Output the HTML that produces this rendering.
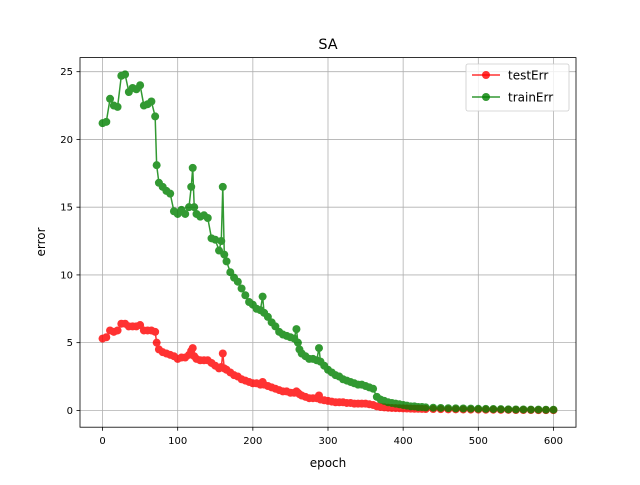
<!DOCTYPE html>
<html><head><meta charset="utf-8"><style>
body{margin:0;background:#fff}
svg text{font-family:"DejaVu Sans","Liberation Sans",sans-serif;fill:#000}
</style></head><body>
<svg id="chart" width="640" height="480" xmlns="http://www.w3.org/2000/svg">
<rect width="640" height="480" fill="#fff"/>
<text x="328" y="49" font-size="14.4" text-anchor="middle">SA</text>
<g id="grid"></g>
<g id="series"></g>
<rect x="80" y="57.6" width="496" height="369.6" fill="none" stroke="#000" stroke-width="0.8"/>
<g id="axes"></g>
<text x="328" y="467" font-size="12" text-anchor="middle">epoch</text>
<text x="45" y="242" font-size="12" text-anchor="middle" transform="rotate(-90 45 242)">error</text>
<g>
<rect x="466" y="64" width="103" height="47" rx="2" fill="#fff" fill-opacity="0.8" stroke="#ccc" stroke-width="0.8"/>
<g>
<line x1="472" y1="75" x2="500" y2="75" stroke="red" stroke-width="1.5" opacity="0.8"/>
<circle cx="486" cy="75" r="4" fill="red" opacity="0.8"/>
<text x="508" y="79.5" font-size="12">testErr</text></g>
<g>
<line x1="472" y1="97" x2="500" y2="97" stroke="green" stroke-width="1.5" opacity="0.8"/>
<circle cx="486" cy="97" r="4" fill="green" opacity="0.8"/>
<text x="508" y="101.5" font-size="12">trainErr</text></g>
</g>
</svg>
<script>
const epochs=[0,5,10,15,20,25,30,35,40,45,50,55,60,65,70,72,75,80,85,90,95,100,105,110,115,118,120,122,125,130,135,140,145,150,155,158,160,162,165,170,175,180,185,190,195,200,205,210,213,215,220,225,230,235,240,245,250,255,258,260,262,265,270,275,280,285,288,290,295,300,305,310,315,320,325,330,335,340,345,350,355,360,365,370,375,380,385,390,395,400,405,410,415,420,425,430,440,450,460,470,480,490,500,510,520,530,540,550,560,570,580,590,600];
const trainErr=[21.2,21.3,23.0,22.5,22.4,24.7,24.8,23.5,23.8,23.7,24.0,22.5,22.6,22.8,21.7,18.1,16.8,16.5,16.2,16.0,14.7,14.5,14.8,14.5,15.0,16.5,17.9,15.0,14.5,14.3,14.4,14.2,12.7,12.6,11.8,12.5,16.5,11.5,11.0,10.2,9.8,9.5,9.0,8.5,8.0,7.8,7.5,7.4,8.4,7.2,6.9,6.5,6.2,5.8,5.6,5.5,5.4,5.3,6.0,5.0,4.5,4.2,4.0,3.8,3.8,3.7,4.6,3.6,3.3,3.0,2.8,2.6,2.5,2.3,2.2,2.1,2.0,1.9,1.9,1.8,1.7,1.6,1.0,0.8,0.7,0.6,0.55,0.5,0.45,0.4,0.35,0.3,0.3,0.25,0.25,0.22,0.2,0.18,0.16,0.15,0.14,0.13,0.12,0.11,0.1,0.09,0.08,0.07,0.07,0.06,0.06,0.05,0.05];
const testErr=[5.3,5.4,5.9,5.8,5.9,6.4,6.4,6.2,6.2,6.2,6.3,5.9,5.9,5.9,5.8,5.0,4.5,4.3,4.2,4.1,4.0,3.8,3.9,3.9,4.1,4.4,4.6,4.0,3.8,3.7,3.7,3.7,3.5,3.3,3.1,3.2,4.2,3.1,3.0,2.8,2.6,2.5,2.3,2.2,2.1,2.0,2.0,1.9,2.1,1.9,1.8,1.7,1.6,1.5,1.4,1.4,1.3,1.3,1.4,1.3,1.2,1.1,1.0,0.9,0.9,0.9,1.1,0.8,0.75,0.7,0.65,0.6,0.6,0.6,0.55,0.55,0.5,0.5,0.5,0.5,0.45,0.4,0.3,0.25,0.22,0.2,0.18,0.17,0.16,0.15,0.14,0.13,0.12,0.12,0.11,0.1,0.1,0.09,0.08,0.08,0.07,0.06,0.06,0.05,0.05,0.04,0.04,0.03,0.03,0.03,0.02,0.02,0.02];
const xTicks=[0,100,200,300,400,500,600];
const yTicks=[0,5,10,15,20,25];
const X0=80,X1=576,Y0=427.2,Y1=57.6,xmin=-30,xmax=630,ymin=-1.24,ymax=26.04;
const sx=v=>X0+(v-xmin)/(xmax-xmin)*(X1-X0);
const sy=v=>Y0-(v-ymin)/(ymax-ymin)*(Y0-Y1);
const NS='http://www.w3.org/2000/svg';
function mk(t,a,p){const e=document.createElementNS(NS,t);for(const k in a)e.setAttribute(k,a[k]);p.appendChild(e);return e;}
const grid=document.getElementById('grid'),axes=document.getElementById('axes'),ser=document.getElementById('series');
xTicks.forEach(t=>{const x=sx(t);
 const g=mk('line',{x1:x,x2:x,y1:Y1,y2:Y0,stroke:'#b0b0b0','stroke-width':0.8},grid);
 
 
 mk('line',{x1:x,x2:x,y1:Y0,y2:Y0+3.5,stroke:'#000','stroke-width':0.8},axes);
 const l=mk('text',{x:x,y:Y0+17,'font-size':10,'text-anchor':'middle'},axes);l.textContent=t;
 
 });
yTicks.forEach(t=>{const y=sy(t);
 const g=mk('line',{x1:X0,x2:X1,y1:y,y2:y,stroke:'#b0b0b0','stroke-width':0.8},grid);
 
 
 mk('line',{x1:X0-3.5,x2:X0,y1:y,y2:y,stroke:'#000','stroke-width':0.8},axes);
 const l=mk('text',{x:X0-7,y:y+3.5,'font-size':10,'text-anchor':'end'},axes);l.textContent=t;
 
 });
function draw(vals,color,name){
 const g=mk('g',{opacity:0.8},ser);
 
 
 mk('polyline',{points:epochs.map((e,i)=>sx(e)+','+sy(vals[i])).join(' '),fill:'none',stroke:color,'stroke-width':1.5},g);
 epochs.forEach((e,i)=>{const c=mk('circle',{cx:sx(e),cy:sy(vals[i]),r:4,fill:color},g);
  
  });
}
draw(testErr,'red','testerr');
draw(trainErr,'green','trainerr');
</script>
</body></html>
